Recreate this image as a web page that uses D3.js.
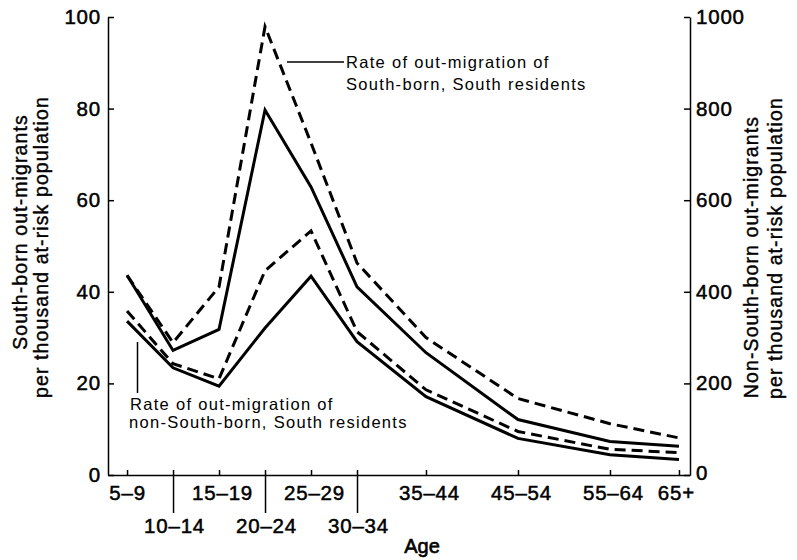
<!DOCTYPE html>
<html>
<head>
<meta charset="utf-8">
<script src="https://cdn.jsdelivr.net/npm/d3@7"></script>
<style>
  body { margin: 0; background: #fff; }
  svg { display: block; }
  text { font-family: "Liberation Sans", Arial, sans-serif; fill: #000; }
</style>
</head>
<body>
<div id="chart"></div>
<script>
// age groups and where they sit on the age axis (group midpoints)
var ageGroups = ["5\u20139", "10\u201314", "15\u201319", "20\u201324", "25\u201329", "30\u201334", "35\u201344", "45\u201354", "55\u201364", "65+"];
var ageMid = [7, 12, 17, 22, 27, 32, 39.5, 49.5, 59.5, 67];
var labelRow = [0, 1, 0, 1, 0, 1, 0, 0, 0, 0];

// South-born, per thousand (left axis)
var southDashed = [43.6, 28.9, 41.1, 97.9, 72.5, 46.3, 30.0, 16.7, 11.2, 8.1];
var southSolid  = [43.6, 27.2, 31.8, 79.7, 62.9, 41.1, 26.7, 12.1, 7.3, 6.3];

// non-South-born, per thousand (right axis)
var nonSouthDashed = [358, 243, 210, 446, 533, 313, 186, 95, 56, 49];
var nonSouthSolid  = [336, 234, 194, 321, 434, 291, 171, 80, 44, 34];

var leftTicks = [0, 20, 40, 60, 80, 100];
var rightTicks = [0, 200, 400, 600, 800, 1000];

var width = 797;
var height = 560;

var x = d3.scaleLinear().domain([4.93, 68.2]).range([108, 690]);
var yLeft = d3.scaleLinear().domain([0, 100]).range([475, 17]);
var yRight = d3.scaleLinear().domain([0, 1000]).range([475, 17]);

var svg = d3.select("#chart")
    .append("svg")
    .attr("width", width)
    .attr("height", height);

// axes
var leftAxis = svg.append("g")
    .attr("transform", "translate(" + x.range()[0] + ",0)")
    .call(d3.axisLeft(yLeft).tickValues(leftTicks).tickSize(-6).tickSizeOuter(0).tickPadding(7));

var rightAxis = svg.append("g")
    .attr("transform", "translate(" + x.range()[1] + ",0)")
    .call(d3.axisRight(yRight).tickValues(rightTicks).tickSize(-6).tickSizeOuter(0).tickPadding(6)
        .tickFormat(d3.format("d")));

var bottomAxis = svg.append("g")
    .attr("transform", "translate(0," + yLeft.range()[0] + ")")
    .call(d3.axisBottom(x).tickValues(ageMid).tickSize(-5).tickSizeOuter(0)
        .tickFormat(function(d, i) { return ageGroups[i]; }));

// the second-row labels hang from long ticks
bottomAxis.selectAll(".tick").each(function(d, i) {
    var t = d3.select(this);
    if (labelRow[i] === 1) {
        t.select("line").attr("y1", 38);
        t.select("text").attr("y", 58).attr("dy", 0).attr("dx", 1);
    } else {
        var shift = i === 0 ? 0 : (i === ageMid.length - 1 ? -3 : 3);
        t.select("text").attr("y", 25).attr("dy", 0).attr("dx", shift);
    }
});

[leftAxis, rightAxis, bottomAxis].forEach(function(a) {
    a.selectAll("path, line").attr("stroke", "#000").attr("stroke-width", 1.5);
    a.selectAll("text")
        .style("font-size", "20.5px")
        .style("letter-spacing", "0.8px")
        .attr("stroke", "#000")
        .attr("stroke-width", 0.5)
        .attr("fill", "#000");
});

// the right-hand zero sits a little high, as in the print
rightAxis.selectAll(".tick text").filter(function(d) { return d === 0; }).attr("dy", "0.2em");

// data lines
var lineLeft = d3.line()
    .x(function(d, i) { return x(ageMid[i]); })
    .y(function(d) { return yLeft(d); });

var lineRight = d3.line()
    .x(function(d, i) { return x(ageMid[i]); })
    .y(function(d) { return yRight(d); });

var series = [
    { values: southDashed, line: lineLeft, dash: "11,6" },
    { values: southSolid, line: lineLeft, dash: null },
    { values: nonSouthDashed, line: lineRight, dash: "11,6" },
    { values: nonSouthSolid, line: lineRight, dash: null }
];

svg.append("g")
    .selectAll("path")
    .data(series)
    .join("path")
        .attr("d", function(s) { return s.line(s.values); })
        .attr("fill", "none")
        .attr("stroke", "#000")
        .attr("stroke-width", 3)
        .attr("stroke-linejoin", "miter")
        .attr("stroke-dasharray", function(s) { return s.dash; });

// axis titles
function vLabel(cx, cy, txt) {
    svg.append("text")
        .attr("transform", "translate(" + cx + "," + cy + ") rotate(-90)")
        .attr("text-anchor", "middle")
        .style("font-size", "19.5px")
        .style("letter-spacing", "1.1px")
        .attr("stroke", "#000")
        .attr("stroke-width", 0.4)
        .text(txt);
}
vLabel(27, 232, "South-born out-migrants");
vLabel(48, 247, "per thousand at-risk population");
vLabel(758, 257, "Non-South-born out-migrants");
vLabel(782, 248, "per thousand at-risk population");

svg.append("text")
    .attr("x", 422)
    .attr("y", 553)
    .attr("text-anchor", "middle")
    .style("font-size", "20px")
    .attr("stroke", "#000")
    .attr("stroke-width", 0.6)
    .text("Age");

// annotations
var note = svg.append("g")
    .style("font-size", "16.5px")
    .style("letter-spacing", "1.3px");

note.append("line")
    .attr("x1", 287).attr("y1", 62).attr("x2", 344).attr("y2", 62)
    .attr("stroke", "#000").attr("stroke-width", 1.5);
note.append("text").attr("x", 346).attr("y", 68).text("Rate of out-migration of");
note.append("text").attr("x", 346).attr("y", 90).text("South-born, South residents");

note.append("line")
    .attr("x1", 137.5).attr("y1", 342).attr("x2", 137.5).attr("y2", 393)
    .attr("stroke", "#000").attr("stroke-width", 1.5);
note.append("text").attr("x", 130).attr("y", 410).text("Rate of out-migration of");
note.append("text").attr("x", 129).attr("y", 428).text("non-South-born, South residents");
</script>
</body>
</html>
